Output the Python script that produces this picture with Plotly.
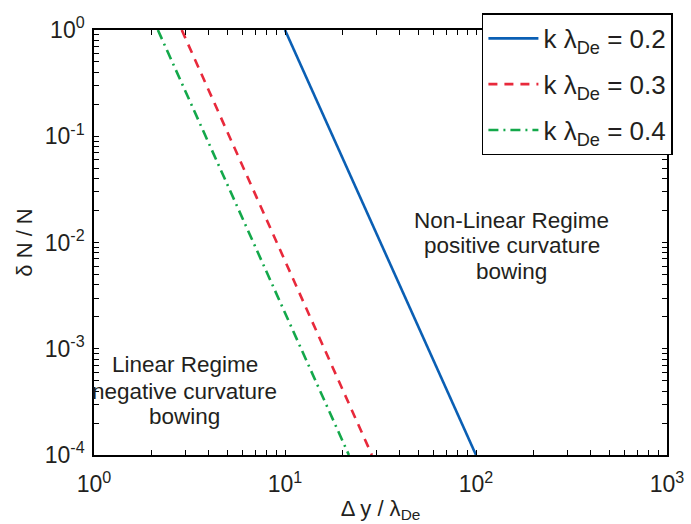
import plotly.graph_objects as go

# Spacing Δy/λ_De at the two ends of each line, and the matching δN/N values
dy_k02 = [10.0, 100.0]
dy_k03 = [2.88, 28.5]
dy_k04 = [2.16, 21.6]
dn_vals = [1.0, 1e-4]

series_names = [
    "k λ<sub>De</sub> = 0.2",
    "k λ<sub>De</sub> = 0.3",
    "k λ<sub>De</sub> = 0.4",
]

x_major = [1, 10, 100, 1000]
x_labels = ["10<sup>0</sup>", "10<sup>1</sup>", "10<sup>2</sup>", "10<sup>3</sup>"]
y_major = [1e-4, 1e-3, 1e-2, 1e-1, 1]
y_labels = ["10<sup>-4</sup>", "10<sup>-3</sup>", "10<sup>-2</sup>", "10<sup>-1</sup>", "10<sup>0</sup>"]

# unlabelled ticks at 2..9 within every decade
x_minor = [m * 10 ** e for e in range(0, 3) for m in range(2, 10)]
y_minor = [m * 10.0 ** e for e in range(-4, 0) for m in range(2, 10)]

# region labels: one line per entry, positions in log10 units
nonlin_lines = ["Non-Linear Regime", "positive curvature", "bowing"]
nonlin_x = 2.188
nonlin_y = [-1.79, -2.03, -2.27]
lin_lines = ["Linear Regime", "negative curvature", "bowing"]
lin_x = 0.476
lin_y = [-3.15, -3.405, -3.64]

FONT = "Liberation Sans, Arial, sans-serif"
TXT = "#231f20"

fig = go.Figure()
fig.add_trace(go.Scatter(x=dy_k02, y=dn_vals, mode="lines", name=series_names[0],
                         legendgroup="a",
                         line=dict(color="#0a5fb4", width=2.6, dash="solid")))
fig.add_trace(go.Scatter(x=dy_k03, y=dn_vals, mode="lines", name=series_names[1],
                         legendgroup="b",
                         line=dict(color="#e8293b", width=2.6, dash="9px,7px")))
fig.add_trace(go.Scatter(x=dy_k04, y=dn_vals, mode="lines", name=series_names[2],
                         legendgroup="c",
                         line=dict(color="#13a84a", width=2.6, dash="10px,5px,2px,5px")))

axis_common = dict(
    type="log",
    showgrid=False,
    zeroline=False,
    showline=True,
    linecolor="black",
    linewidth=1.5,
    mirror="allticks",
    ticks="inside",
    ticklen=5,
    tickcolor="black",
    tickwidth=1,
    tickfont=dict(family=FONT, size=23, color=TXT),
)

fig.update_xaxes(
    **axis_common,
    range=[0, 3],
    tickmode="array",
    tickvals=x_major + x_minor,
    ticktext=x_labels + [""] * len(x_minor),
    ticklabelstandoff=8,
    title=dict(text="Δ y / λ<sub>De</sub>", font=dict(family=FONT, size=22, color=TXT), standoff=4),
)
fig.update_yaxes(
    **axis_common,
    range=[-4, 0],
    tickmode="array",
    tickvals=y_major + y_minor,
    ticktext=y_labels + [""] * len(y_minor),
    ticklabelstandoff=3,
    title=dict(text="δ N / N", font=dict(family=FONT, size=22, color=TXT), standoff=6),
)

for txt, yy in zip(nonlin_lines, nonlin_y):
    fig.add_annotation(x=nonlin_x, y=yy, xref="x", yref="y", text=txt,
                       showarrow=False, align="center",
                       font=dict(family=FONT, size=22.5, color=TXT))
for txt, yy in zip(lin_lines, lin_y):
    fig.add_annotation(x=lin_x, y=yy, xref="x", yref="y", text=txt,
                       showarrow=False, align="center",
                       font=dict(family=FONT, size=22.5, color=TXT))

fig.update_layout(
    width=691,
    height=524,
    margin=dict(l=94, r=24, t=30, b=69, autoexpand=False),
    paper_bgcolor="white",
    plot_bgcolor="white",
    font=dict(family=FONT, color=TXT),
    showlegend=True,
    legend=dict(
        x=0.677, y=1.039, xanchor="left", yanchor="top",
        bgcolor="white", bordercolor="black", borderwidth=1.5,
        font=dict(family=FONT, size=26, color=TXT),
        itemwidth=50,
        tracegroupgap=9,
    ),
)

fig.write_html("out.html")
